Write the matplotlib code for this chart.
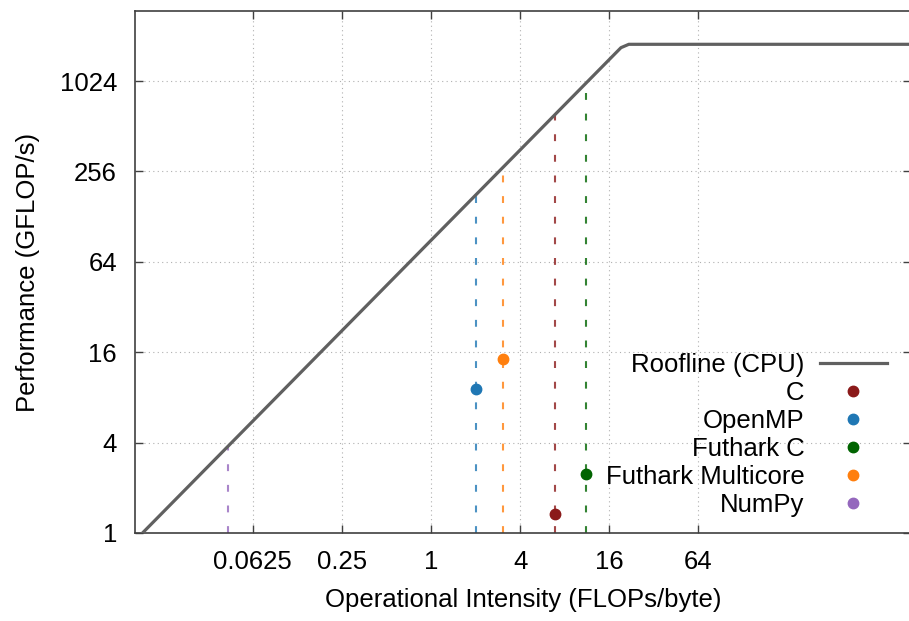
import numpy as np
import matplotlib
matplotlib.use("Agg")
import matplotlib.pyplot as plt

plt.rcParams['font.family'] = ['Liberation Sans', 'DejaVu Sans']

# machine parameters (CPU)
PEAK = 1800.0      # GFLOP/s
BANDWIDTH = 89.0   # GB/s

names = ["C", "OpenMP", "Futhark C", "Futhark Multicore", "NumPy"]
intensity = [6.87, 2.0, 11.1, 3.06, 0.0427]       # FLOPs/byte
performance = [1.34, 9.13, 2.48, 14.5, 0.5]      # GFLOP/s
colors = ["#8b1a1a", "#1f77b4", "#006400", "#ff7f0e", "#9467bd"]

xticks = [0.0625, 0.25, 1, 4, 16, 64]
xlabels = ["0.0625", "0.25", "1", "4", "16", "64"]
yticks = [1, 4, 16, 64, 256, 1024]

XMIN, XMAX = 0.01, 1750
YMIN, YMAX = 1, 3000

FS = 18.5

fig = plt.figure(figsize=(9.09, 6.21), dpi=100)
ax = fig.add_axes([135 / 909, 1 - 533 / 621, (911 - 135) / 909, (533 - 11) / 621])

def roof(x):
    return np.minimum(PEAK, BANDWIDTH * np.asarray(x))

xs = np.logspace(np.log10(XMIN), np.log10(XMAX), 100)
ax.plot(xs, roof(xs), color="#606060", lw=2.3, label="Roofline (CPU)", zorder=3)

for name, x, y, c in zip(names, intensity, performance, colors):
    ax.plot([x, x], [YMIN, roof(x)], color=c, lw=1.5, alpha=0.8,
            linestyle=(0, (3.3, 6.6)), zorder=2)
    ax.plot([x], [y], 'o', color=c, ms=7.5, label=name, linestyle='none',
            zorder=4, clip_on=True)

ax.set_xscale('log', base=2)
ax.set_yscale('log', base=2)
ax.set_xlim(XMIN, XMAX)
ax.set_ylim(YMIN, YMAX)
ax.set_xticks(xticks)
ax.set_xticklabels(xlabels)
ax.set_yticks(yticks)
ax.set_yticklabels([str(t) for t in yticks])
ax.minorticks_off()
ax.tick_params(direction='in', length=6, width=1, color="#404040",
               top=True, right=True, labelsize=FS, pad=12)
ax.tick_params(axis='y', pad=13)
ax.grid(True, linestyle=(0, (1, 3)), color="#b0b0b0", lw=0.8)
for s in ax.spines.values():
    s.set_color("#404040")
    s.set_linewidth(1.2)

ax.set_xlabel("Operational Intensity (FLOPs/byte)", fontsize=FS, labelpad=10)
ax.set_ylabel("Performance (GFLOP/s)", fontsize=FS, labelpad=14)

ax.legend(loc='lower right', bbox_to_anchor=(0.995, -0.008), frameon=False,
          markerfirst=False, fontsize=FS, handlelength=2.6, handletextpad=0.6,
          labelspacing=0.15, borderpad=0.3, numpoints=1)

fig.savefig("out.png", dpi=100)
